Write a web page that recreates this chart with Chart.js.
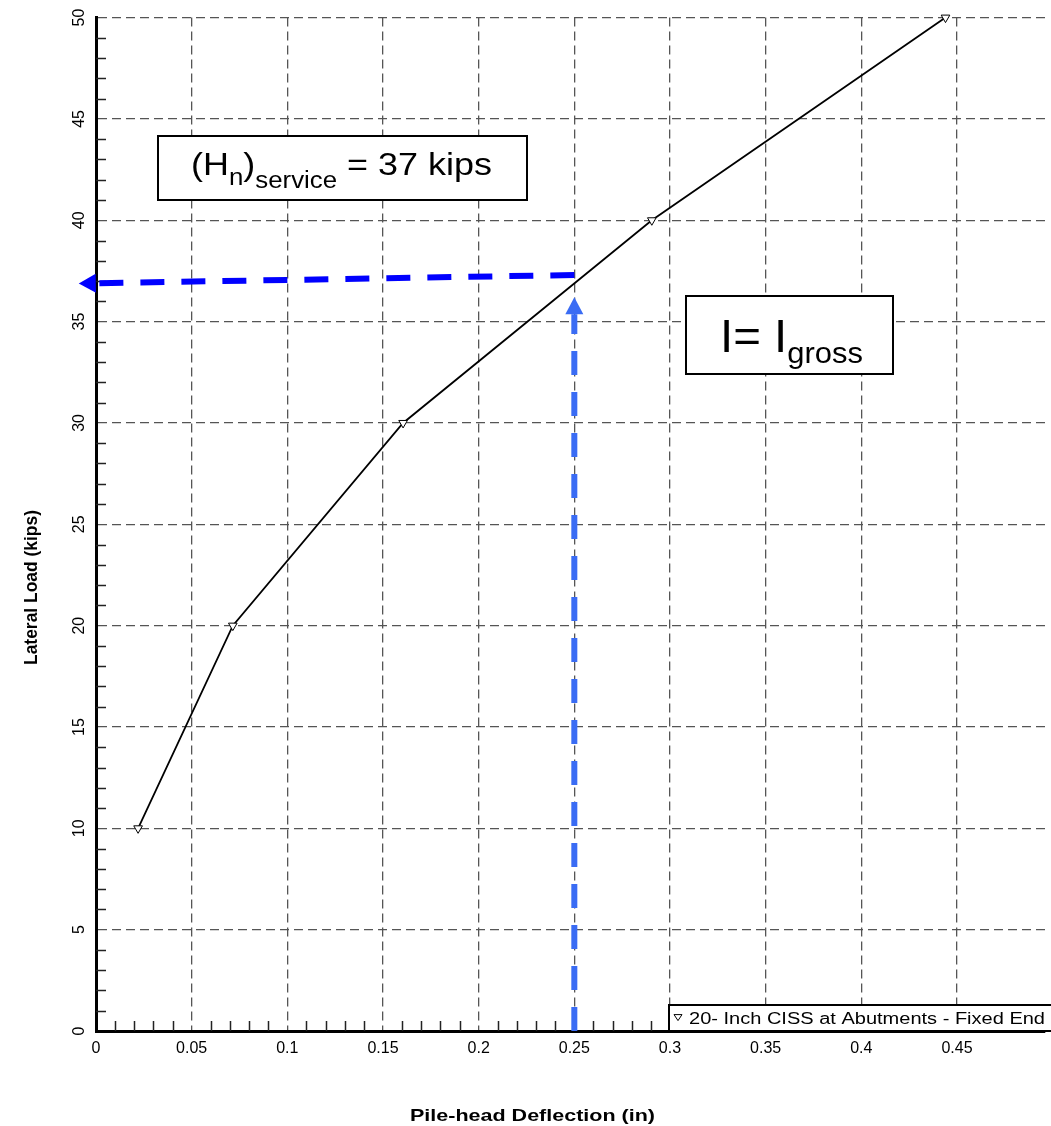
<!DOCTYPE html>
<html>
<head>
<meta charset="utf-8">
<script src="https://cdn.jsdelivr.net/npm/chart.js@4.4.1/dist/chart.umd.min.js"></script>
<style>
html, body { margin: 0; padding: 0; background: #fff; }
#wrap { width: 1051px; height: 1126px; position: relative; }
</style>
</head>
<body>
<div id="wrap"><canvas id="pileChart"></canvas></div>
<script>
// data
const deflection = [0.022, 0.0715, 0.1605, 0.2905, 0.444];
const lateralLoad = [10, 20, 30, 40, 50];
const xTickValues = [0, 0.05, 0.1, 0.15, 0.2, 0.25, 0.3, 0.35, 0.4, 0.45];
const yTickValues = [0, 5, 10, 15, 20, 25, 30, 35, 40, 45, 50];
const seriesLabel = '20- Inch CISS at Abutments - Fixed End';

// service load read-off arrows (deflection, load)
const horizArrowX = [0.25, -0.009];
const horizArrowY = [37.3, 36.88];
const vertArrowX = [0.25, 0.25];
const vertArrowY = [0, 36.2];

const FONT = "'Liberation Sans', Arial, Helvetica, sans-serif";

document.addEventListener('DOMContentLoaded', function() {
    initializeChart();
});

// draws a list of text runs, squeezed/stretched to fit a target width
function drawRuns(ctx, x, baseline, runs, targetWidth, weight) {
    const w = weight ? weight + ' ' : '';
    let total = 0;
    runs.forEach(r => {
        ctx.font = w + r.size + 'px ' + FONT;
        r.w = ctx.measureText(r.text).width;
        total += r.w;
    });
    const sx = targetWidth ? targetWidth / total : 1;
    ctx.save();
    ctx.translate(x, baseline);
    ctx.scale(sx, 1);
    ctx.fillStyle = '#000';
    ctx.textAlign = 'left';
    ctx.textBaseline = 'alphabetic';
    let cx = 0;
    runs.forEach(r => {
        ctx.font = w + r.size + 'px ' + FONT;
        ctx.fillText(r.text, cx, r.dy || 0);
        cx += r.w;
    });
    ctx.restore();
}

function drawDashedArrow(ctx, x1, y1, x2, y2, color, width, headLen, headHalf) {
    const ang = Math.atan2(y2 - y1, x2 - x1);
    const bx = x2 - Math.cos(ang) * headLen;
    const by = y2 - Math.sin(ang) * headLen;
    ctx.save();
    ctx.strokeStyle = color;
    ctx.lineWidth = width;
    ctx.lineCap = 'butt';
    ctx.setLineDash([24, 17]);
    ctx.beginPath();
    ctx.moveTo(x1, y1);
    ctx.lineTo(bx, by);
    ctx.stroke();
    ctx.setLineDash([]);
    ctx.fillStyle = color;
    ctx.beginPath();
    ctx.moveTo(x2, y2);
    ctx.lineTo(bx - Math.sin(ang) * headHalf, by + Math.cos(ang) * headHalf);
    ctx.lineTo(bx + Math.sin(ang) * headHalf, by - Math.cos(ang) * headHalf);
    ctx.closePath();
    ctx.fill();
    ctx.restore();
}

function drawTriangleDown(ctx, x, y, r) {
    ctx.beginPath();
    ctx.moveTo(x - r, y - r * 0.6);
    ctx.lineTo(x + r, y - r * 0.6);
    ctx.lineTo(x, y + r * 0.9);
    ctx.closePath();
    ctx.fillStyle = '#fff';
    ctx.fill();
    ctx.strokeStyle = '#000';
    ctx.lineWidth = 1;
    ctx.stroke();
}

const minorTicks = {
    id: 'minorTicks',
    beforeDatasetsDraw(chart) {
        const ctx = chart.ctx;
        const xs = chart.scales.x;
        const ys = chart.scales.y;
        const area = chart.chartArea;
        ctx.save();
        ctx.strokeStyle = '#222';
        ctx.lineWidth = 1.5;
        ctx.beginPath();
        for (let i = 1; i * 0.01 < xs.max; i++) {
            if (i % 5 === 0) continue;
            const px = Math.round(xs.getPixelForValue(i * 0.01)) + 0.5;
            ctx.moveTo(px, area.bottom);
            ctx.lineTo(px, area.bottom - 10);
        }
        for (let j = 1; j < ys.max; j++) {
            if (j % 5 === 0) continue;
            const py = Math.round(ys.getPixelForValue(j)) + 0.5;
            ctx.moveTo(area.left, py);
            ctx.lineTo(area.left + 10, py);
        }
        ctx.stroke();
        ctx.restore();
    }
};

const readOffArrows = {
    id: 'readOffArrows',
    beforeDatasetsDraw(chart) {
        const ctx = chart.ctx;
        const xs = chart.scales.x;
        const ys = chart.scales.y;
        drawDashedArrow(ctx,
            xs.getPixelForValue(vertArrowX[0]), ys.getPixelForValue(vertArrowY[0]),
            xs.getPixelForValue(vertArrowX[1]), ys.getPixelForValue(vertArrowY[1]),
            '#3a6cf4', 6, 17, 9);
        drawDashedArrow(ctx,
            xs.getPixelForValue(horizArrowX[0]), ys.getPixelForValue(horizArrowY[0]),
            xs.getPixelForValue(horizArrowX[1]), ys.getPixelForValue(horizArrowY[1]),
            '#0000ff', 6, 17, 9.5);
    }
};

const notes = {
    id: 'notes',
    afterDraw(chart) {
        const ctx = chart.ctx;
        const area = chart.chartArea;
        ctx.save();

        // (Hn)service box
        ctx.fillStyle = '#fff';
        ctx.fillRect(158, 136, 369, 64);
        ctx.strokeStyle = '#000';
        ctx.lineWidth = 2;
        ctx.strokeRect(158, 136, 369, 64);
        drawRuns(ctx, 191, 175, [
            { text: '(H', size: 32 },
            { text: 'n', size: 23, dy: 10 },
            { text: ')', size: 32 },
            { text: 'service', size: 23, dy: 13 },
            { text: ' = 37 kips', size: 32 }
        ], 301);

        // I = Igross box
        ctx.fillStyle = '#fff';
        ctx.fillRect(686, 296, 207, 78);
        ctx.strokeRect(686, 296, 207, 78);
        drawRuns(ctx, 720, 352, [
            { text: 'I= I', size: 46 },
            { text: 'gross', size: 30, dy: 11 }
        ], 143);

        // legend
        ctx.fillStyle = '#fff';
        ctx.fillRect(669, 1005, 400, area.bottom - 1005);
        ctx.lineWidth = 2;
        ctx.strokeRect(669, 1005, 400, area.bottom - 1005);
        drawTriangleDown(ctx, 678, 1017, 4);
        drawRuns(ctx, 689, 1024, [{ text: chart.data.datasets[0].label, size: 16 }], 356);

        // axis titles
        drawRuns(ctx, 410, 1121, [{ text: 'Pile-head Deflection (in)', size: 17 }], 245, 'bold');
        ctx.translate(37, 665);
        ctx.rotate(-Math.PI / 2);
        drawRuns(ctx, 0, 0, [{ text: 'Lateral Load (kips)', size: 18 }], 155, 'bold');
        ctx.restore();
    }
};

function initializeChart() {
    const ctx = document.getElementById('pileChart').getContext('2d');
    const points = deflection.map((d, i) => ({ x: d, y: lateralLoad[i] }));
    const chart = new Chart(ctx, {
        type: 'scatter',
        data: {
            datasets: [{
                label: seriesLabel,
                data: points,
                showLine: true,
                borderColor: '#000',
                borderWidth: 1.8,
                pointStyle: 'triangle',
                rotation: 180,
                pointRadius: 5,
                pointBackgroundColor: '#fff',
                pointBorderColor: '#000',
                pointBorderWidth: 1,
                clip: false
            }]
        },
        options: {
            responsive: true,
            maintainAspectRatio: false,
            animation: false,
            devicePixelRatio: 1,
            layout: {
                padding: { top: 16, right: 3, left: 0, bottom: 0 }
            },
            plugins: {
                legend: { display: false },
                tooltip: { enabled: false }
            },
            scales: {
                x: {
                    type: 'linear',
                    min: 0,
                    max: 0.496,
                    afterBuildTicks: scale => {
                        scale.ticks = xTickValues.map(v => ({ value: v }));
                    },
                    afterFit: scale => { scale.height = 95; },
                    ticks: {
                        callback: v => String(v),
                        font: { family: FONT, size: 16 },
                        color: '#000',
                        padding: 8,
                        maxRotation: 0,
                        autoSkip: false
                    },
                    grid: {
                        color: '#555',
                        lineWidth: 1.3,
                        drawTicks: false
                    },
                    border: {
                        display: true,
                        color: '#000',
                        width: 3,
                        dash: [9, 5]
                    }
                },
                y: {
                    type: 'linear',
                    min: 0,
                    max: 50,
                    afterBuildTicks: scale => {
                        scale.ticks = yTickValues.map(v => ({ value: v }));
                    },
                    afterFit: scale => { scale.width = 96; },
                    ticks: {
                        font: { family: FONT, size: 16 },
                        color: '#000',
                        minRotation: 90,
                        maxRotation: 90,
                        crossAlign: 'center',
                        padding: 8,
                        autoSkip: false
                    },
                    grid: {
                        color: '#555',
                        lineWidth: 1.3,
                        drawTicks: false
                    },
                    border: {
                        display: true,
                        color: '#000',
                        width: 3,
                        dash: [9, 5]
                    }
                }
            }
        },
        plugins: [minorTicks, readOffArrows, notes]
    });

    window.pileChart = chart;
}
</script>
</body>
</html>
